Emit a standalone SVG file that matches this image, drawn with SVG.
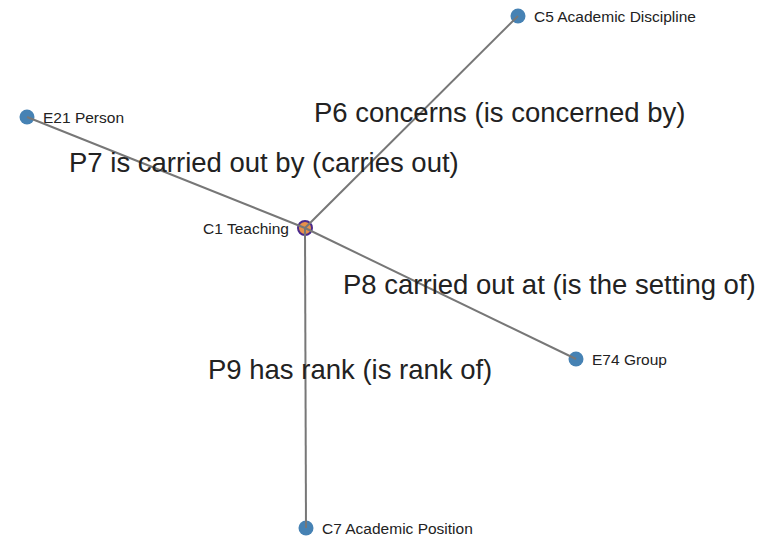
<svg xmlns="http://www.w3.org/2000/svg" width="759" height="536" viewBox="0 0 759 536">
<style>
.node{fill:#4682b4}
.center{fill:#e8914a;stroke:#4a2a8c;stroke-width:2}
.nl{font-family:"Liberation Sans",Arial,sans-serif;font-size:15.5px;fill:#222}
.el{font-family:"Liberation Sans",Arial,sans-serif;font-size:27.5px;fill:#222}
.edge{stroke:#777;stroke-width:2;fill:none}
</style>
<rect width="759" height="536" fill="#fff"/>
<g id="n-c1"><circle class="center" cx="305" cy="228" r="7"/><text class="nl" x="289" y="234" text-anchor="end">C1 Teaching</text></g>
<g id="n-e21"><circle class="node" cx="27" cy="117" r="7.5"/><text class="nl" x="43" y="123">E21 Person</text></g>
<g id="n-c5"><circle class="node" cx="518" cy="16" r="7.5"/><text class="nl" x="534" y="22">C5 Academic Discipline</text></g>
<g id="n-e74"><circle class="node" cx="576" cy="359" r="7.5"/><text class="nl" x="592" y="365">E74 Group</text></g>
<g id="n-c7"><circle class="node" cx="306" cy="528" r="7.5"/><text class="nl" x="322" y="534">C7 Academic Position</text></g>
<g id="edges">
<line class="edge" x1="305" y1="228" x2="518" y2="16"/>
<line class="edge" x1="305" y1="228" x2="27" y2="117"/>
<line class="edge" x1="305" y1="228" x2="576" y2="359"/>
<line class="edge" x1="305" y1="228" x2="306" y2="528"/>
<text class="el" x="314" y="122">P6 concerns (is concerned by)</text>
<text class="el" x="69" y="172">P7 is carried out by (carries out)</text>
<text class="el" x="343" y="294">P8 carried out at (is the setting of)</text>
<text class="el" x="208" y="379">P9 has rank (is rank of)</text>
</g>
</svg>
